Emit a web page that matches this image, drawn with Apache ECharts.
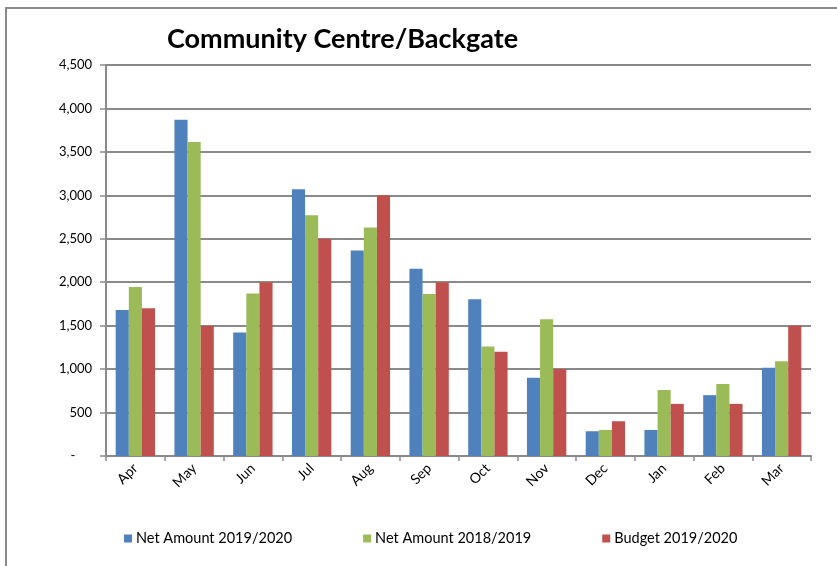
<!DOCTYPE html>
<html>
<head>
<meta charset="utf-8">
<script src="https://cdn.jsdelivr.net/npm/echarts@6/dist/echarts.min.js"></script>
<style>
  html, body { margin: 0; padding: 0; background: #fff; }
  #frame { position: absolute; left: 5px; top: 7px; width: 840px; height: 570px;
           border-left: 2px solid #8a8a8a; border-top: 2px solid #8a8a8a; box-sizing: border-box; }
  #chart { position: absolute; left: 0; top: 0; width: 837px; height: 566px; }
</style>
</head>
<body>
<div id="frame"></div>
<div id="chart"></div>
<script>
// Monthly figures, April to March
const months = ['Apr', 'May', 'Jun', 'Jul', 'Aug', 'Sep', 'Oct', 'Nov', 'Dec', 'Jan', 'Feb', 'Mar'];
const net2019_2020 = [1680, 3870, 1420, 3070, 2365, 2155, 1805, 900, 285, 300, 700, 1015];
const net2018_2019 = [1945, 3615, 1870, 2770, 2630, 1865, 1260, 1575, 300, 760, 830, 1090];
const budget2019_2020 = [1700, 1500, 2000, 2500, 3000, 2000, 1200, 1000, 400, 600, 600, 1500];
const seriesNames = ['Net Amount 2019/2020', 'Net Amount 2018/2019', 'Budget 2019/2020'];
const seriesColors = ['#4F81BD', '#9BBB59', '#C0504D'];

const font = 'Lato, "Open Sans", sans-serif';
const chart = echarts.init(document.getElementById('chart'), null, { renderer: 'canvas' });

const series = [net2019_2020, net2018_2019, budget2019_2020].map((vals, i) => ({
  name: seriesNames[i],
  type: 'bar',
  data: vals,
  barGap: '0%',
  barCategoryGap: '33%',
  itemStyle: { color: seriesColors[i] }
}));

chart.setOption({
  animation: false,
  title: {
    text: 'Community Centre/Backgate',
    left: 162, top: 21,
    textStyle: { fontFamily: font, fontSize: 27, fontWeight: 'bold', color: '#000' }
  },
  legend: {
    bottom: 15, left: 119,
    itemWidth: 8, itemHeight: 8, itemGap: 71,
    icon: 'rect',
    textStyle: { fontFamily: font, fontSize: 14.5, color: '#000', padding: [0, 0, 0, -1] },
    data: seriesNames
  },
  grid: { left: 106, right: 26, top: 65, bottom: 110 },
  xAxis: {
    type: 'category',
    data: months,
    axisLine: { lineStyle: { color: '#8a8a8a', width: 2 } },
    axisTick: { show: true, length: 5, lineStyle: { color: '#8a8a8a', width: 1.5 } },
    axisLabel: { rotate: 45, fontFamily: font, fontSize: 14, color: '#000', margin: 10 }
  },
  yAxis: {
    type: 'value',
    min: 0, max: 4500, interval: 500,
    axisLine: { show: true, lineStyle: { color: '#8a8a8a', width: 2 } },
    axisTick: { show: true, length: 6, lineStyle: { color: '#8a8a8a', width: 1.5 } },
    splitLine: { lineStyle: { color: '#8a8a8a', width: 2 } },
    axisLabel: {
      fontFamily: font, fontSize: 13, color: '#000', margin: 14,
      formatter: v => v === 0 ? '-     ' : v.toLocaleString('en-US')
    }
  },
  series: series
});
</script>
</body>
</html>
